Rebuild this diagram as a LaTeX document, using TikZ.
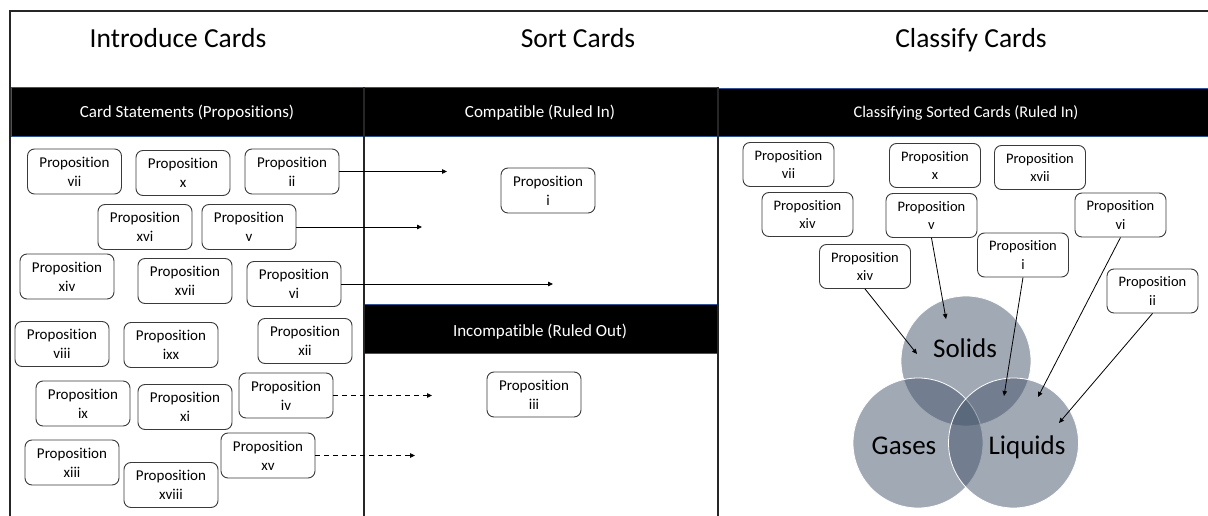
\documentclass[tikz,border=0pt]{standalone}
\usepackage{fontspec}
\setmainfont{Carlito}[Ligatures=NoCommon]
\usetikzlibrary{arrows.meta}
\definecolor{framegray}{HTML}{262626}
\definecolor{bandedge}{HTML}{2F5597}
\definecolor{cardedge}{HTML}{3A3A3A}
\definecolor{vennfill}{HTML}{44546A}
\begin{document}
\begin{tikzpicture}[x=1pt,y=-1pt,
  card/.style={draw=cardedge, line width=0.9pt, rounded corners=7pt,
    minimum width=94pt, minimum height=45pt, inner sep=0pt, align=center,
    font=\fontsize{15}{19}\selectfont, text=black},
  rcard/.style={card, minimum width=91pt, minimum height=44pt,
    font=\fontsize{14.5}{18.5}\selectfont},
  title/.style={anchor=base, font=\fontsize{27.5}{30}\selectfont, text=black},
  band/.style={fill=black, draw=bandedge, line width=0.7pt},
  bandtext/.style={anchor=base, text=white, font=\fontsize{17}{20}\selectfont},
  venn/.style={circle, minimum size=130pt, inner sep=0pt, outer sep=0pt,
    fill=vennfill, fill opacity=0.5, draw=white, line width=0.8pt},
  vennlabel/.style={anchor=base, font=\fontsize{27}{30}\selectfont, text=black},
  link/.style={line width=0.8pt, -{Triangle[length=5pt,width=4.5pt]}},
  ruledout/.style={link, dash pattern=on 5pt off 4pt}
]
\useasboundingbox (0,0) rectangle (1208,516);

% column titles
\node[title] (t1) at (178,48) {Introduce Cards};
\node[title] (t2) at (578,48) {Sort Cards};
\node[title] (t3) at (971,48) {Classify Cards};

% header bands
\draw[band] (11,87) rectangle (364,136);
\draw[band] (364,87) rectangle (718,136);
\draw[band] (718,88) rectangle (1208,136);
\draw[band] (364,304) rectangle (718,353);
\node[bandtext] (h1) at (187,118) {Card Statements (Propositions)};
\node[bandtext] (h2) at (540,118) {Compatible (Ruled In)};
\node[bandtext, font=\fontsize{16.3}{19}\selectfont] (h3) at (966,118) {Classifying Sorted Cards (Ruled In)};
\node[bandtext] (h4) at (540,336) {Incompatible (Ruled Out)};

% frame and column dividers
\draw[framegray, line width=1.6pt] (10,516) -- (10,11) -- (1208,11);
\draw[framegray, line width=1.3pt] (364,87) -- (364,516);
\draw[framegray, line width=1.3pt] (718,87) -- (718,516);

% introduced cards
\node[card] (L-vii)   at (74.5,171.5) {Proposition\\vii};
\node[card] (L-x)     at (183,173)    {Proposition\\x};
\node[card] (L-ii)    at (292,171.5)  {Proposition\\ii};
\node[card] (L-xvi)   at (145,227)    {Proposition\\xvi};
\node[card] (L-v)     at (249,227)    {Proposition\\v};
\node[card] (L-xiv)   at (67,276.5)   {Proposition\\xiv};
\node[card] (L-xvii)  at (185,281)    {Proposition\\xvii};
\node[card] (L-vi)    at (294,284)    {Proposition\\vi};
\node[card] (L-viii)  at (62,344)     {Proposition\\viii};
\node[card] (L-ixx)   at (171,345)    {Proposition\\ixx};
\node[card] (L-xii)   at (305,341)    {Proposition\\xii};
\node[card] (L-ix)    at (83,403.5)   {Proposition\\ix};
\node[card] (L-xi)    at (185,407)    {Proposition\\xi};
\node[card] (L-iv)    at (286,395.5)  {Proposition\\iv};
\node[card] (L-xiii)  at (72,462.5)   {Proposition\\xiii};
\node[card] (L-xviii) at (171,485)    {Proposition\\xviii};
\node[card] (L-xv)    at (268,455.5)  {Proposition\\xv};

% sorted cards
\node[card] (S-i)   at (548,190.5) {Proposition\\i};
\node[card] (S-iii) at (534,394.5) {Proposition\\iii};

% sorting arrows
\coordinate (e-ii) at (447,171.5);
\coordinate (e-v)  at (422,227);
\coordinate (e-vi) at (553,284);
\coordinate (e-iv) at (432,395.5);
\coordinate (e-xv) at (415,455.5);
\draw[link] (L-ii.east) -- (e-ii);
\draw[link] (L-v.east) -- (e-v);
\draw[link] (L-vi.east) -- (e-vi);
\draw[ruledout] (L-iv.east) -- (e-iv);
\draw[ruledout] (L-xv.east) -- (e-xv);

% Venn diagram of states of matter
\node[venn] (solids)  at (966,361) {};
\node[venn] (gases)   at (918,443) {};
\node[venn] (liquids) at (1013.5,443) {};
\node[vennlabel] (lab-s) at (965,357)  {Solids};
\node[vennlabel] (lab-g) at (904,454)  {Gases};
\node[vennlabel] (lab-l) at (1027,454) {Liquids};

% classified cards
\node[rcard] (C-vii)  at (788.5,164.5) {Proposition\\vii};
\node[rcard] (C-x)    at (935,165.5)   {Proposition\\x};
\node[rcard] (C-xvii) at (1040,167.5)  {Proposition\\xvii};
\node[rcard] (C-xiv)  at (807.5,214.5) {Proposition\\xiv};
\node[rcard] (C-v)    at (931.5,215.5) {Proposition\\v};
\node[rcard] (C-vi)   at (1120.5,215)  {Proposition\\vi};
\node[rcard] (C-i)    at (1023,255)    {Proposition\\i};
\node[rcard] (C-xivb) at (865,266.5)   {Proposition\\xiv};
\node[rcard] (C-ii)   at (1152.5,291)  {Proposition\\ii};

% classifying arrows
\coordinate (k-v)    at (946,319);
\coordinate (k-xivb) at (917,354);
\coordinate (k-i)    at (1004,396);
\coordinate (k-vi)   at (1038,397);
\coordinate (k-ii)   at (1059,423);
\draw[link] (C-v.south) -- (k-v);
\draw[link] (C-xivb.south) -- (k-xivb);
\draw[link] (C-i.south) -- (k-i);
\draw[link] (C-vi.south) -- (k-vi);
\draw[link] (C-ii.south) -- (k-ii);
\end{tikzpicture}
\end{document}
